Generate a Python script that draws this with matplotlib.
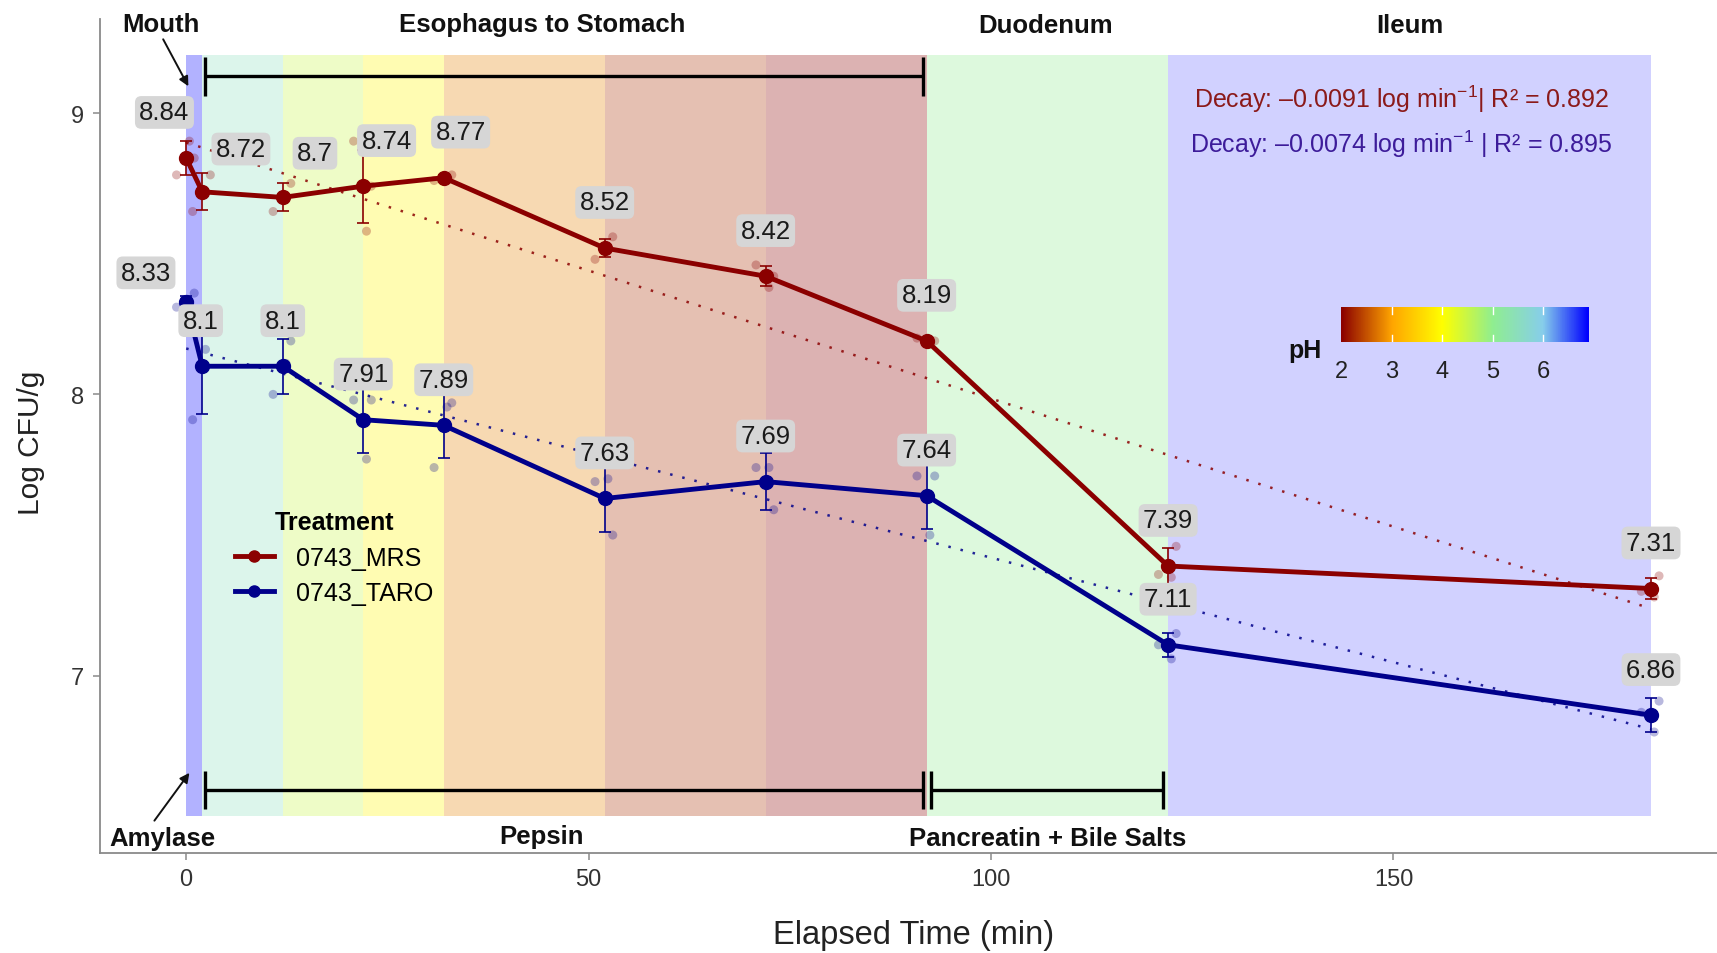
import matplotlib
matplotlib.use("Agg")
import matplotlib.pyplot as plt
import numpy as np
from matplotlib.colors import LinearSegmentedColormap, Normalize
from matplotlib.patches import Rectangle

plt.rcParams['font.family'] = ['Liberation Sans', 'DejaVu Sans']
plt.rcParams['mathtext.fontset'] = 'custom'
plt.rcParams['mathtext.rm'] = 'Liberation Sans'
plt.rcParams['mathtext.it'] = 'Liberation Sans'
plt.rcParams['mathtext.bf'] = 'Liberation Sans:bold'

# ---- data ----
times = [0, 2, 12, 22, 32, 52, 72, 92, 122, 182]

mrs_mean = [8.84, 8.72, 8.70, 8.74, 8.77, 8.52, 8.42, 8.19, 7.39, 7.31]
mrs_sd = [0.06, 0.066, 0.05, 0.13, 0.01, 0.033, 0.035, 0.01, 0.064, 0.037]
mrs_reps = [[8.78, 8.90, 8.84], [8.65, 8.72, 8.78], [8.65, 8.70, 8.75],
            [8.90, 8.58, 8.74], [8.76, 8.77, 8.78], [8.48, 8.52, 8.56],
            [8.46, 8.38, 8.42], [8.20, 8.18, 8.19], [7.36, 7.35, 7.46],
            [7.30, 7.28, 7.355]]

taro_mean = [8.33, 8.10, 8.10, 7.91, 7.89, 7.63, 7.69, 7.64, 7.11, 6.86]
taro_sd = [0.02, 0.17, 0.097, 0.12, 0.115, 0.12, 0.10, 0.12, 0.043, 0.06]
taro_reps = [[8.31, 8.33, 8.36], [7.91, 8.16, 8.23], [8.00, 8.11, 8.19],
             [7.98, 7.77, 7.98], [7.74, 7.955, 7.97], [7.69, 7.70, 7.50],
             [7.74, 7.74, 7.59], [7.71, 7.50, 7.71], [7.11, 7.06, 7.15],
             [6.87, 6.80, 6.91]]

treatments = ['0743_MRS', '0743_TARO']
decay_labels = ['Decay: \u20130.0091 log min$^{-1}$| R\u00b2 = 0.892',
                'Decay: \u20130.0074 log min$^{-1}$ | R\u00b2 = 0.895']

# digestion phases and their pH
phase_edges = [0, 2, 12, 22, 32, 52, 72, 92, 122, 182]
phase_ph = [6.9, 5.5, 4.5, 3.9, 2.8, 2.3, 2.0, 5.0, 6.9]
ph_anchor = [2, 3, 4, 5, 6, 6.9]
ph_colors = ['#8b0000', '#ffa500', '#ffff00', '#90ee90', '#87ceeb', '#0000ff']
ph_ticks = [2, 3, 4, 5, 6]

# ---- styles / layout ----
red = '#8b0000'
blue = '#00008b'
phase_alpha = [0.3, 0.3, 0.3, 0.3, 0.3, 0.3, 0.3, 0.3, 0.18]
rep_jitter = [-1.2, 0.4, 1.0]
lab_dy = 0.162
mrs_nudge = {0: (-2.7, 0), 1: (4.8, -0.01), 2: (4.0, -0.005), 3: (2.9, 0), 4: (2.1, 0)}
taro_nudge = {0: (-5.0, -0.06), 1: (-0.2, 0)}

fig = plt.figure(figsize=(17.17, 9.54), dpi=100)
ax = fig.add_axes([0.058, 0.1048, 0.942, 0.8742])
ax.set_xlim(-10.76, 190.2)
ax.set_ylim(6.370, 9.334)

# background pH bands
pos = [(p - ph_anchor[0]) / (ph_anchor[-1] - ph_anchor[0]) for p in ph_anchor]
cmap = LinearSegmentedColormap.from_list('ph', list(zip(pos, ph_colors)))
norm = Normalize(ph_anchor[0], ph_anchor[-1])
for i in range(len(phase_ph)):
    x0, x1 = phase_edges[i], phase_edges[i + 1]
    ax.add_patch(Rectangle((x0, 6.503), x1 - x0, 9.205 - 6.503,
                           facecolor=cmap(norm(phase_ph[i])), alpha=phase_alpha[i],
                           edgecolor='none', zorder=0))

# brackets
def bracket(x0, x1, y, h=0.068):
    ax.plot([x0, x1], [y, y], color='black', lw=2.4, solid_capstyle='butt', zorder=2)
    for xx in (x0, x1):
        ax.plot([xx, xx], [y - h, y + h], color='black', lw=2.4, solid_capstyle='butt', zorder=2)

bracket(2.3, 91.6, 9.13)
bracket(2.3, 91.6, 6.593)
bracket(92.5, 121.4, 6.593)

# regions / enzymes text
bold = dict(fontsize=18.5, fontweight='bold', ha='center', va='center', color='#111111')
ax.text(-3.1, 9.318, 'Mouth', **bold)
ax.text(44.2, 9.318, 'Esophagus to Stomach', **bold)
ax.text(106.8, 9.314, 'Duodenum', **bold)
ax.text(152.0, 9.314, 'Ileum', **bold)
ax.text(-3.0, 6.425, 'Amylase', **bold)
ax.text(44.2, 6.429, 'Pepsin', **bold)
ax.text(107.0, 6.425, 'Pancreatin + Bile Salts', **bold)

arrow = dict(arrowstyle='-|>', color='#111111', lw=1.4, mutation_scale=14, shrinkA=0, shrinkB=0)
ax.annotate('', xy=(0.27, 9.095), xytext=(-2.86, 9.262), arrowprops=arrow)
ax.annotate('', xy=(0.4, 6.655), xytext=(-3.95, 6.485), arrowprops=arrow)

# series
series = [(mrs_mean, mrs_sd, mrs_reps, red, mrs_nudge),
          (taro_mean, taro_sd, taro_reps, blue, taro_nudge)]
for k, (means, sds, reps, col, nudge) in enumerate(series):
    # fitted decay line
    slope, icpt = np.polyfit(times, means, 1)
    xf = np.array([times[0], times[-1]])
    ax.plot(xf, icpt + slope * xf, color=col, lw=1.8, ls=(0, (1, 4)), alpha=0.85, zorder=3)
    # replicates
    for t, rr in zip(times, reps):
        ax.scatter([t + j for j in rep_jitter], rr, s=42, color=col, alpha=0.28,
                   edgecolors='none', zorder=3)
    ax.errorbar(times, means, yerr=sds, fmt='none', ecolor=col, elinewidth=1.2,
                capsize=4, capthick=1.2, zorder=4)
    ax.plot(times, means, '-o', color=col, lw=3.5, ms=10, zorder=5, label=treatments[k])
    for i, (t, m) in enumerate(zip(times, means)):
        dx, dy = nudge.get(i, (0, 0))
        ax.text(t + dx, m + lab_dy + dy, f'{m:g}', fontsize=18.5, ha='center', va='center',
                color='#1a1a1a', zorder=6,
                bbox=dict(boxstyle='round,pad=0.17,rounding_size=0.25', fc='#d6d6d6', ec='none'))

# decay annotations
ax.text(151, 9.053, decay_labels[0], fontsize=18, ha='center', va='center', color='#8b1a1a')
ax.text(151, 8.893, decay_labels[1], fontsize=18, ha='center', va='center', color='#3d1c9a')

# axes styling
for s in ('top', 'right'):
    ax.spines[s].set_visible(False)
for s in ('left', 'bottom'):
    ax.spines[s].set_color('#8a8a8a')
    ax.spines[s].set_linewidth(1.3)
ax.set_xticks([0, 50, 100, 150])
ax.set_yticks([7, 8, 9])
ax.tick_params(labelsize=17, colors='#8a8a8a', labelcolor='#333333', length=5, width=1.1, pad=6)
ax.set_xlabel('Elapsed Time (min)', fontsize=23.5, color='#222222')
ax.xaxis.set_label_coords(0.5035, -0.098)
ax.xaxis.label.set_va('center')
ax.set_ylabel('Log CFU/g', fontsize=21.5, color='#222222')
ax.yaxis.set_label_coords(-0.0424, 0.493)
ax.yaxis.label.set_va('center')

leg = ax.legend(loc='upper left', bbox_to_anchor=(0.0837, 0.411), frameon=False, fontsize=18,
                title='Treatment', title_fontproperties={'weight': 'bold', 'size': 18},
                handlelength=1.55, handletextpad=0.9, labelspacing=0.45, borderpad=0,
                borderaxespad=0, markerscale=0.8)

# pH colour bar
cax = fig.add_axes([0.781, 0.6405, 0.1444, 0.0367])
grad = np.linspace(ph_anchor[0], ph_anchor[-1], 400)
cax.imshow(grad[None, :], aspect='auto', cmap=cmap, norm=norm,
           extent=[ph_anchor[0], ph_anchor[-1], 0, 1])
for p in ph_ticks[1:]:
    cax.plot([p, p], [0, 0.2], color='white', lw=1)
    cax.plot([p, p], [0.8, 1], color='white', lw=1)
cax.set_xlim(ph_anchor[0], ph_anchor[-1])
cax.set_ylim(0, 1)
cax.set_yticks([])
cax.set_xticks(ph_ticks)
cax.tick_params(axis='x', length=0, labelsize=17, labelcolor='#222222', pad=13)
for s in cax.spines.values():
    s.set_visible(False)
fig.text(0.760, 0.632, 'pH', fontsize=18, fontweight='bold', ha='center', va='center',
         color='#111111')

fig.savefig('out.png', dpi=100)
